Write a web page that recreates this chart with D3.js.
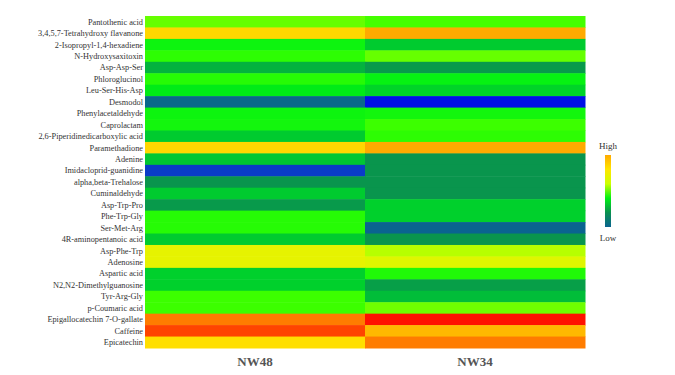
<!DOCTYPE html>
<html>
<head>
  <script src="https://d3js.org/d3.v7.min.js"></script>
  <style>
    body { margin: 0; background: #fff; }
    text { font-family: "Liberation Serif", "DejaVu Serif", serif; fill: #333; }
  </style>
</head>
<body>
<script>
var width = 675, height = 375;

var compounds = ["Pantothenic acid", "3,4,5,7-Tetrahydroxy flavanone", "2-Isopropyl-1,4-hexadiene",
  "N-Hydroxysaxitoxin", "Asp-Asp-Ser", "Phloroglucinol", "Leu-Ser-His-Asp", "Desmodol",
  "Phenylacetaldehyde", "Caprolactam", "2,6-Piperidinedicarboxylic acid", "Paramethadione",
  "Adenine", "Imidacloprid-guanidine", "alpha,beta-Trehalose", "Cuminaldehyde", "Asp-Trp-Pro",
  "Phe-Trp-Gly", "Ser-Met-Arg", "4R-aminopentanoic acid", "Asp-Phe-Trp", "Adenosine",
  "Aspartic acid", "N2,N2-Dimethylguanosine", "Tyr-Arg-Gly", "p-Coumaric acid",
  "Epigallocatechin 7-O-gallate", "Caffeine", "Epicatechin"];

var samples = ["NW48", "NW34"];

// relative level, 0 = low, 1 = high
var nw48 = [0.60, 0.80, 0.48, 0.53, 0.33, 0.52, 0.45, 0.17, 0.48, 0.49, 0.38, 0.80, 0.37, 0.08,
  0.27, 0.38, 0.28, 0.52, 0.52, 0.38, 0.74, 0.74, 0.39, 0.39, 0.55, 0.55, 0.91, 0.96, 0.79];
var nw34 = [0.56, 0.86, 0.38, 0.60, 0.28, 0.47, 0.40, 0.00, 0.49, 0.55, 0.53, 0.86, 0.27, 0.27,
  0.27, 0.27, 0.39, 0.39, 0.16, 0.27, 0.68, 0.73, 0.51, 0.29, 0.35, 0.61, 1.00, 0.84, 0.91];

var stops = [0, 0.08, 0.16, 0.26, 0.36, 0.46, 0.54, 0.62, 0.7, 0.78, 0.86, 0.93, 1];
var stopColors = ["#0010e6", "#0a3cc8", "#0a6490", "#0a9050", "#00c236", "#00f014", "#33ff00",
  "#77ff00", "#ccff00", "#ffe600", "#ffaa00", "#ff6a00", "#ff1200"];

var color = d3.scaleLinear().domain(stops).range(stopColors).interpolate(d3.interpolateRgb);

var cells = [];
compounds.forEach(function(c, i) {
  cells.push({ row: c, col: samples[0], v: nw48[i] });
  cells.push({ row: c, col: samples[1], v: nw34[i] });
});

var svg = d3.select("body").append("svg")
  .attr("width", width).attr("height", height);

var x = d3.scaleBand().domain(samples).range([145, 585]);
var y = d3.scaleBand().domain(compounds).range([16, 348]);

svg.selectAll(".cell")
  .data(cells)
  .enter().append("rect")
  .attr("class", "cell")
  .attr("x", d => x(d.col))
  .attr("y", d => y(d.row))
  .attr("width", x.bandwidth() + 0.5)
  .attr("height", y.bandwidth() + 0.5)
  .attr("fill", d => color(d.v));

svg.selectAll(".rowlab")
  .data(compounds)
  .enter().append("text")
  .attr("class", "rowlab")
  .attr("x", 143)
  .attr("y", d => y(d) + y.bandwidth() / 2)
  .attr("dy", "0.35em")
  .attr("text-anchor", "end")
  .style("font-size", "8.3px")
  .text(d => d);

svg.selectAll(".collab")
  .data(samples)
  .enter().append("text")
  .attr("class", "collab")
  .attr("x", d => x(d) + x.bandwidth() / 2)
  .attr("y", 366)
  .attr("text-anchor", "middle")
  .style("font-size", "13px")
  .style("font-weight", "bold")
  .style("fill", "#555")
  .text(d => d);

// legend
var legStops = [0.16, 0.26, 0.46, 0.7, 0.78, 0.86];
var grad = svg.append("defs").append("linearGradient")
  .attr("id", "leg").attr("x1", 0).attr("y1", 1).attr("x2", 0).attr("y2", 0);
grad.selectAll("stop")
  .data(legStops)
  .enter().append("stop")
  .attr("offset", (d, i) => i / (legStops.length - 1))
  .attr("stop-color", d => color(d));

svg.append("rect")
  .attr("x", 605).attr("y", 155)
  .attr("width", 6).attr("height", 72)
  .attr("fill", "url(#leg)");

svg.append("text").attr("x", 608).attr("y", 149)
  .attr("text-anchor", "middle").style("font-size", "9px").text("High");
svg.append("text").attr("x", 608).attr("y", 241)
  .attr("text-anchor", "middle").style("font-size", "9px").text("Low");
</script>
</body>
</html>
